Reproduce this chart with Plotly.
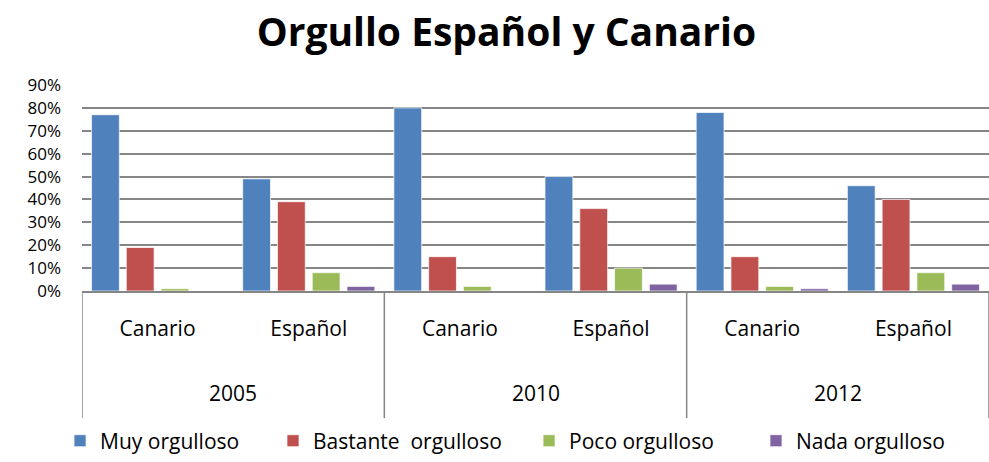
import plotly.graph_objects as go

years = ["2005", "2010", "2012"]
groups = ["Canario", "Español"]
series_names = ["Muy orgulloso", "Bastante  orgulloso", "Poco orgulloso", "Nada orgulloso"]
muy = [0.77, 0.49, 0.80, 0.50, 0.78, 0.46]
bastante = [0.19, 0.39, 0.15, 0.36, 0.15, 0.40]
poco = [0.01, 0.08, 0.02, 0.10, 0.02, 0.08]
nada = [0.00, 0.02, 0.00, 0.03, 0.01, 0.03]
y_ticks = [0, 0.1, 0.2, 0.3, 0.4, 0.5, 0.6, 0.7, 0.8, 0.9]
colors = ["#4F81BD", "#C0504D", "#9BBB59", "#8064A2"]

keys = [f"{y}|{g}" for y in years for g in groups]
labels = [g for y in years for g in groups]

FONT = "Open Sans"
legend_ids = ["legend", "legend2", "legend3", "legend4"]
legend_x = [-0.0242, 0.2106, 0.4929, 0.7431]

fig = go.Figure()
for name, vals, col, lid in zip(series_names, [muy, bastante, poco, nada], colors, legend_ids):
    fig.add_trace(go.Bar(x=keys, y=vals, name=name, marker_color=col, legend=lid,
                         marker_line=dict(color="rgba(255,255,255,0.7)", width=1)))

legend_style = dict(orientation="h", xanchor="left", y=-0.828, yanchor="bottom",
                    font=dict(family=FONT, size=21, color="black"), itemwidth=30)

fig.update_layout(
    width=989, height=462,
    margin=dict(l=82, r=0, t=85, b=171),
    paper_bgcolor="white", plot_bgcolor="white",
    barmode="group", bargap=0.08, bargroupgap=0.2,
    title=dict(text="<b>Orgullo Español y Canario</b>", x=0.512, xanchor="center",
               y=1 - 32 / 462, yanchor="middle", font=dict(family=FONT, size=39, color="black")),
    font=dict(family=FONT, size=21, color="black"),
    showlegend=True,
    xaxis=dict(type="category", tickvals=keys, ticktext=labels, showgrid=False,
               showline=True, linecolor="#868686", linewidth=1.5, ticks="",
               ticklabelstandoff=18, tickfont=dict(family=FONT, size=21, color="black"),
               range=[-0.5, 5.5], automargin=False),
    yaxis=dict(range=[0, 0.9], tickvals=y_ticks, tickformat=".0%", showgrid=True,
               gridcolor="#868686", gridwidth=1.5, zeroline=False, showline=False,
               ticks="", ticklabelstandoff=20, automargin=False,
               tickfont=dict(family=FONT, size=17, color="black")),
)
for lid, lx in zip(legend_ids, legend_x):
    fig.update_layout({lid: dict(x=lx, **legend_style)})

# group dividers and year labels
for i in range(len(years) + 1):
    fig.add_shape(type="line", xref="x", yref="paper", x0=-0.5 + 2 * i, x1=-0.5 + 2 * i,
                  y0=0, y1=-0.617, line=dict(color="#868686", width=1.5))
for i, yr in enumerate(years):
    fig.add_annotation(text=yr, xref="x", yref="paper", x=0.5 + 2 * i, y=-0.495,
                       showarrow=False, font=dict(family=FONT, size=21, color="black"),
                       yanchor="middle")

fig.write_html("out.html", config={"displayModeBar": False},
               post_script="document.body.style.margin='0';")
